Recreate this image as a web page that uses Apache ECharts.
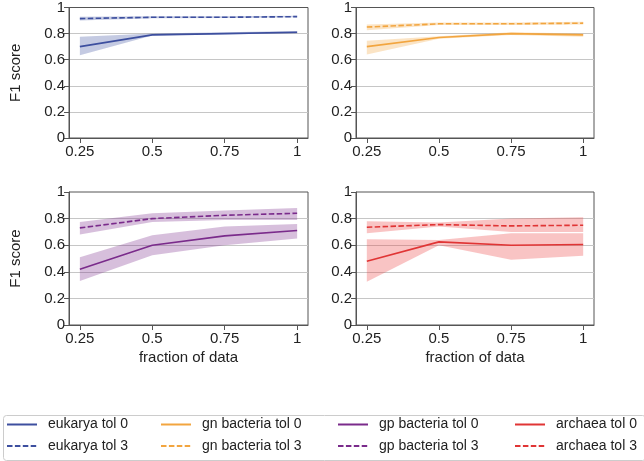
<!DOCTYPE html>
<html>
<head>
<meta charset="utf-8">
<script src="https://cdn.jsdelivr.net/npm/echarts@6/dist/echarts.min.js"></script>
<style>html,body{margin:0;padding:0;background:#fff}#c{width:644px;height:461px}</style>
</head>
<body>
<div id="c"></div>
<script>
const fractions = [0.25, 0.5, 0.75, 1];
const xTickValues = [0.25, 0.5, 0.75, 1];
const yTickValues = [0, 0.2, 0.4, 0.6, 0.8, 1];

const eukaryaTol0 = [0.70, 0.79, 0.80, 0.81];
const eukaryaTol0Lo = [0.635, 0.785, 0.795, 0.80];
const eukaryaTol0Hi = [0.775, 0.80, 0.81, 0.82];
const eukaryaTol3 = [0.915, 0.925, 0.925, 0.93];
const eukaryaTol3Lo = [0.90, 0.918, 0.92, 0.925];
const eukaryaTol3Hi = [0.93, 0.932, 0.932, 0.936];

const gnTol0 = [0.70, 0.77, 0.80, 0.79];
const gnTol0Lo = [0.64, 0.76, 0.79, 0.775];
const gnTol0Hi = [0.745, 0.78, 0.81, 0.80];
const gnTol3 = [0.85, 0.875, 0.875, 0.88];
const gnTol3Lo = [0.825, 0.865, 0.865, 0.87];
const gnTol3Hi = [0.87, 0.885, 0.885, 0.89];

const gpTol0 = [0.42, 0.60, 0.67, 0.71];
const gpTol0Lo = [0.33, 0.525, 0.60, 0.65];
const gpTol0Hi = [0.51, 0.675, 0.74, 0.76];
const gpTol3 = [0.73, 0.80, 0.825, 0.84];
const gpTol3Lo = [0.68, 0.775, 0.79, 0.79];
const gpTol3Hi = [0.775, 0.84, 0.86, 0.88];

const archaeaTol0 = [0.48, 0.625, 0.60, 0.605];
const archaeaTol0Lo = [0.325, 0.60, 0.49, 0.52];
const archaeaTol0Hi = [0.645, 0.64, 0.69, 0.69];
const archaeaTol3 = [0.735, 0.755, 0.745, 0.75];
const archaeaTol3Lo = [0.69, 0.74, 0.70, 0.70];
const archaeaTol3Hi = [0.78, 0.77, 0.80, 0.81];

const groups = [
  {name: 'eukarya', color: '#3d4f9f', band: 'rgba(61,79,159,0.3)', t0: eukaryaTol0, t0lo: eukaryaTol0Lo, t0hi: eukaryaTol0Hi, t3: eukaryaTol3, t3lo: eukaryaTol3Lo, t3hi: eukaryaTol3Hi},
  {name: 'gn bacteria', color: '#f2a53f', band: 'rgba(242,165,63,0.3)', t0: gnTol0, t0lo: gnTol0Lo, t0hi: gnTol0Hi, t3: gnTol3, t3lo: gnTol3Lo, t3hi: gnTol3Hi},
  {name: 'gp bacteria', color: '#7a2b8b', band: 'rgba(122,43,139,0.3)', t0: gpTol0, t0lo: gpTol0Lo, t0hi: gpTol0Hi, t3: gpTol3, t3lo: gpTol3Lo, t3hi: gpTol3Hi},
  {name: 'archaea', color: '#e03535', band: 'rgba(235,60,60,0.3)', t0: archaeaTol0, t0lo: archaeaTol0Lo, t0hi: archaeaTol0Hi, t3: archaeaTol3, t3lo: archaeaTol3Lo, t3hi: archaeaTol3Hi}
];

const FONT = 'Liberation Sans, Arial, sans-serif';
const FS = 15;
const gridPos = [
  {left: 69, top: 5, width: 239, height: 133},
  {left: 356, top: 5, width: 238, height: 133},
  {left: 69, top: 192, width: 239, height: 133},
  {left: 356, top: 192, width: 238, height: 133}
];

const pairs = arr => fractions.map((x, i) => [x, arr[i]]);

function bandSeries(k, lo, hi, fill) {
  return {
    type: 'custom', xAxisIndex: k, yAxisIndex: k, silent: true, z: 1, clip: true,
    data: fractions.map((x, i) => [x, lo[i], hi[i]]),
    encode: {x: 0, y: [1, 2]},
    renderItem: (params, api) => {
      if (params.dataIndex !== 0) return null;
      const pts = [];
      for (let i = 0; i < fractions.length; i++) pts.push(api.coord([fractions[i], hi[i]]));
      for (let i = fractions.length - 1; i >= 0; i--) pts.push(api.coord([fractions[i], lo[i]]));
      return {type: 'polygon', shape: {points: pts}, style: {fill: fill}};
    }
  };
}

const grids = [], xAxes = [], yAxes = [], series = [];
groups.forEach((g, k) => {
  grids.push(Object.assign({show: true, borderColor: '#555', borderWidth: 1, backgroundColor: 'transparent'}, gridPos[k]));
  xAxes.push({
    type: 'value', gridIndex: k, min: 0.2125, max: 1.0375,
    name: k >= 2 ? 'fraction of data' : '', nameLocation: 'middle', nameGap: 25,
    nameTextStyle: {fontFamily: FONT, fontSize: FS, color: '#222'},
    axisLine: {show: true, lineStyle: {color: '#555', width: 1}},
    axisTick: {show: true, length: 5, customValues: xTickValues, lineStyle: {color: '#555'}},
    axisLabel: {show: true, customValues: xTickValues, margin: 6, fontFamily: FONT, fontSize: FS, color: '#222', formatter: v => String(v)},
    splitLine: {show: false}
  });
  yAxes.push({
    type: 'value', gridIndex: k, min: 0, max: 1, interval: 0.2,
    name: (k % 2 === 0) ? 'F1 score' : '', nameLocation: 'middle', nameGap: 46,
    nameTextStyle: {fontFamily: FONT, fontSize: FS, color: '#222'},
    axisLine: {show: true, lineStyle: {color: '#555', width: 1}},
    axisTick: {show: true, length: 5, lineStyle: {color: '#555'}},
    axisLabel: {margin: 4, fontFamily: FONT, fontSize: FS, color: '#222', formatter: v => String(+v.toFixed(2))},
    splitLine: {show: true, showMinLine: false, showMaxLine: false, lineStyle: {color: '#c6c6c6', width: 1}}
  });
  series.push(bandSeries(k, g.t0lo, g.t0hi, g.band));
  series.push(bandSeries(k, g.t3lo, g.t3hi, g.band));
  series.push({type: 'line', name: g.name + ' tol 0', xAxisIndex: k, yAxisIndex: k, symbol: 'none',
    color: g.color, lineStyle: {color: g.color, width: 1.6}, data: pairs(g.t0), z: 3});
  series.push({type: 'line', name: g.name + ' tol 3', xAxisIndex: k, yAxisIndex: k, symbol: 'none',
    color: g.color, lineStyle: {color: g.color, width: 1.6, type: [5.5, 2.4]}, data: pairs(g.t3), z: 3});
});

const legendLeft = [6, 160, 337, 514];
const legends = groups.map((g, k) => ({
  orient: 'vertical', left: legendLeft[k], top: 417.5, padding: 0,
  itemWidth: 30, itemHeight: 14, itemGap: 7.5,
  data: [g.name + ' tol 0', g.name + ' tol 3'],
  itemStyle: {color: 'rgba(0,0,0,0)', borderColor: 'rgba(0,0,0,0)', borderWidth: 0, opacity: 0},
  textStyle: {fontFamily: FONT, fontSize: 14, color: '#222', lineHeight: 14, padding: [0, 0, 0, 6]},
  selectedMode: false
}));

const chart = echarts.init(document.getElementById('c'), null, {renderer: 'canvas'});
chart.setOption({
  animation: false,
  backgroundColor: '#fff',
  grid: grids, xAxis: xAxes, yAxis: yAxes, series: series,
  legend: legends,
  graphic: [{type: 'rect', left: 1, top: 413, shape: {width: 642, height: 45, r: 3},
    style: {fill: 'none', stroke: '#cccccc', lineWidth: 1}, z: -1, silent: true}]
});
</script>
</body>
</html>
